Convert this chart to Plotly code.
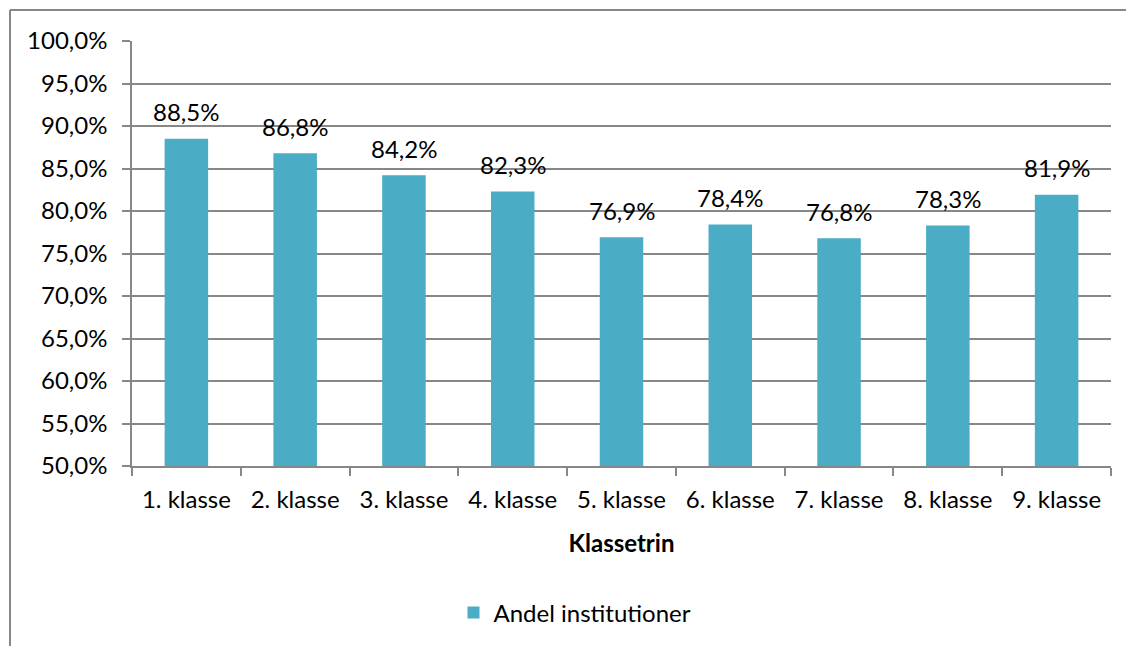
import plotly.graph_objects as go

categories = ["1. klasse", "2. klasse", "3. klasse", "4. klasse", "5. klasse",
              "6. klasse", "7. klasse", "8. klasse", "9. klasse"]
values = [0.885, 0.868, 0.842, 0.823, 0.769, 0.784, 0.768, 0.783, 0.819]
series_name = "Andel institutioner"

W, H = 1126, 646
L, R, T, B = 132, 15, 41, 180
pw, ph = W - L - R, H - T - B

def px(x):
    return (x - L) / pw

def py(y):
    return (H - B - y) / ph

grid = "#878787"
font = "Lato"
fs = 24

fig = go.Figure(go.Bar(
    x=categories, y=values, name=series_name,
    marker=dict(color="#4BACC6", line=dict(width=0)),
    showlegend=True, hoverinfo="skip",
))

annotations = [
    dict(x=c, y=v, xref="x", yref="y", text=f"{v*100:.1f}%".replace(".", ","),
         showarrow=False, yanchor="middle", yshift=27,
         font=dict(family=font, size=fs, color="#000000"))
    for c, v in zip(categories, values)
]

fig.update_layout(
    width=W, height=H, separators=",.",
    margin=dict(l=L, r=R, t=T, b=B, autoexpand=False),
    paper_bgcolor="white", plot_bgcolor="white",
    bargap=0.6,
    font=dict(family=font, size=fs, color="#000000"),
    xaxis=dict(
        showline=True, linecolor=grid, linewidth=1.5,
        ticks="outside", tickson="boundaries", ticklen=8, tickcolor=grid, tickwidth=1.5,
        showgrid=False, ticklabelstandoff=11,
        title=dict(text="<b>Klassetrin</b>", font=dict(family=font, size=fs), standoff=24),
        tickfont=dict(family=font, size=fs),
    ),
    yaxis=dict(
        range=[0.5, 1.0], dtick=0.05, tickformat=".1%",
        showline=True, linecolor=grid, linewidth=1.5,
        ticks="outside", ticklen=8, tickcolor=grid, tickwidth=1.5,
        showgrid=True, gridcolor=grid, gridwidth=1.5,
        zeroline=False, ticklabelstandoff=10,
        tickfont=dict(family=font, size=fs),
    ),
    legend=dict(orientation="h", x=px(575), xanchor="center", y=py(613), yanchor="middle",
                font=dict(family=font, size=fs), itemsizing="constant"),
    annotations=annotations,
    shapes=[
        dict(type="line", xref="paper", yref="paper", x0=px(10), x1=px(10),
             y0=py(10), y1=py(H + 5), line=dict(color=grid, width=2)),
        dict(type="line", xref="paper", yref="paper", x0=px(10), x1=px(W + 5),
             y0=py(10), y1=py(10), line=dict(color=grid, width=2)),
    ],
)

fig.write_html("out.html", config={"displayModeBar": False},
               post_script="document.body.style.margin='0';")
